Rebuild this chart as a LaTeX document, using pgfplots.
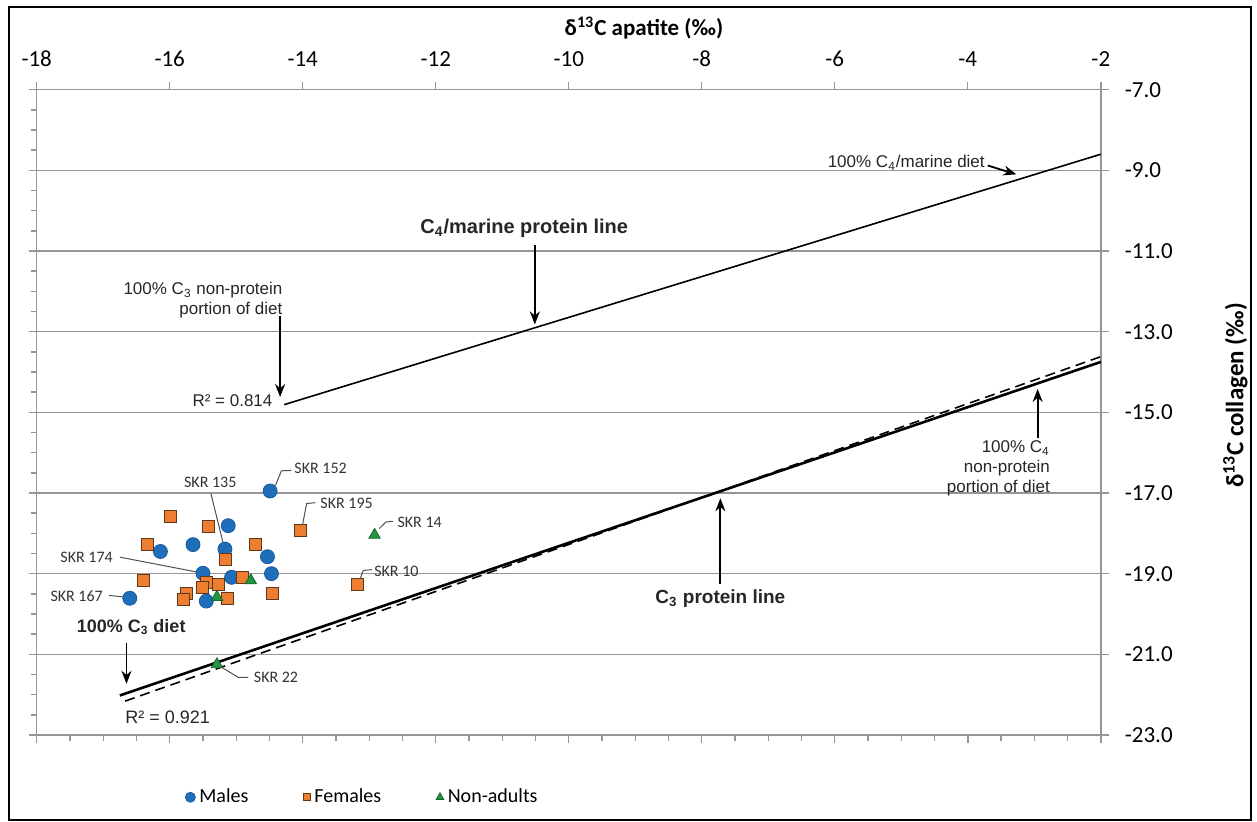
\documentclass[border=0pt]{standalone}
\usepackage{pgfplots}
\pgfplotsset{compat=1.18}
\usepackage{pgfplotstable}
\usepackage{fontspec}
\setmainfont{Carlito}
\newfontfamily\arialf{Liberation Sans}
\usetikzlibrary{arrows.meta}
\definecolor{mblue}{RGB}{30,110,185}
\definecolor{mblueD}{RGB}{25,90,160}
\definecolor{forange}{RGB}{237,125,49}
\definecolor{forangeD}{RGB}{95,55,25}
\definecolor{ngreen}{RGB}{35,150,70}
\definecolor{ngreenD}{RGB}{20,105,45}
\definecolor{gridg}{RGB}{150,150,150}
\definecolor{leadg}{RGB}{80,80,80}

\pgfplotstableread{
x y
-14.49 -16.95
-15.12 -17.81
-15.65 -18.28
-16.14 -18.45
-15.17 -18.39
-14.53 -18.58
-15.50 -18.99
-14.47 -19.00
-15.07 -19.09
-16.60 -19.61
-15.45 -19.68
}\males

\pgfplotstableread{
x y
-15.99 -17.59
-15.42 -17.84
-16.34 -18.28
-14.71 -18.28
-15.16 -18.66
-16.40 -19.17
-15.45 -19.21
-15.26 -19.27
-15.51 -19.35
-14.90 -19.09
-15.75 -19.49
-15.80 -19.65
-15.13 -19.61
-14.46 -19.49
-14.03 -17.94
-13.17 -19.27
}\females

\pgfplotstableread{
x y
-14.78 -19.17
-15.29 -19.58
-12.92 -18.04
-15.29 -21.25
}\nonadults

\pgfplotsset{mylegimg/.style={legend image code/.code={\draw[mark repeat=2,mark phase=2,##1] plot coordinates {(0cm,0cm) (0.15cm,0cm) (0.3cm,0cm)};}}}

\begin{document}
\begin{tikzpicture}
\useasboundingbox (0,0) rectangle (628.5pt,411pt);
\draw[line width=1pt] (4.5pt,0.75pt) rectangle (625.5pt,407.65pt);
\pgfplotsset{base/.style={at={(18.35pt,43.5pt)}, anchor=south west, scale only axis,
  width=532.05pt, height=322.65pt, xmin=-18, xmax=-2, ymin=-23, ymax=-7,
  xtick={-18,-16,...,-2}, ytick={-23,-21,...,-7}}}
% minor ticks on left and bottom
\begin{axis}[base, xtick pos=left, ytick pos=left, xticklabels={}, yticklabels={},
  minor x tick num=3, minor y tick num=3, axis line style={draw=none},
  tick style={gridg, line width=0.7pt}, tick align=outside,
  major tick length=4pt, minor tick length=3pt]
\end{axis}
\begin{axis}[base, clip=false, mylegimg,
  xtick pos=right, ytick pos=right, xticklabel pos=right, yticklabel pos=right,
  ymajorgrids, major grid style={gridg, line width=0.8pt},
  axis line style={gridg, line width=0.8pt},
  tick style={gridg, line width=0.7pt}, tick align=outside, major tick length=4pt,
  ticklabel style={font=\fontsize{11.5}{13}\selectfont},
  /pgf/number format/assume math mode=true,
  y tick label style={/pgf/number format/fixed, /pgf/number format/fixed zerofill,
    /pgf/number format/precision=1, anchor=west, xshift=4.5pt},
  x tick label style={yshift=4pt},
  legend style={draw=none, fill=none, at={(0.1337,-0.0965)}, anchor=west,
    legend columns=3, font=\fontsize{10}{12}\selectfont,
    /tikz/every even column/.append style={column sep=25.5pt}},
]
% lines
\addplot[black, line width=0.8pt, forget plot] coordinates {(-14.28,-14.81) (-2,-8.6)};
\addplot[black, line width=1.3pt, forget plot] coordinates {(-16.75,-22.02) (-2,-13.75)};
\addplot[black, line width=0.8pt, dash pattern=on 5pt off 3pt, forget plot] coordinates {(-16.67,-22.16) (-2,-13.62)};
% data
\addplot[only marks, mark=*, mark size=3.5pt, mark options={fill=mblue, draw=mblueD, line width=0.4pt},
  legend image post style={mark size=2.5pt}] table {\males};
\addlegendentry{Males}
\addplot[only marks, mark=square*, mark size=3pt, mark options={fill=forange, draw=forangeD, line width=0.5pt},
  legend image post style={mark size=1.75pt}] table {\females};
\addlegendentry{Females}
\addplot[only marks, mark=triangle*, mark size=3.3pt, mark options={fill=ngreen, draw=ngreenD, line width=0.4pt},
  legend image post style={mark size=2.2pt}] table {\nonadults};
\addlegendentry{Non-adults}

% axis titles
\node[font=\bfseries\fontsize{11.5}{13}\selectfont] at (rel axis cs:0.5707,1) [yshift=30.85pt] {δ\textsuperscript{13}C apatite (‰)};
\node[font=\bfseries\fontsize{12.5}{14}\selectfont, rotate=90] at (rel axis cs:1.1265,0.526) {δ\textsuperscript{13}C collagen (‰)};

% annotations
\begin{scope}[every node/.style={font=\arialf\fontsize{8.5}{10}\selectfont, inner sep=0pt, text=black!85}]
\node[anchor=east] at (axis cs:-3.74,-8.82) {100\% C\textsubscript{4}/marine diet};
\node[anchor=east, align=right] at (axis cs:-14.30,-12.22) {100\% C\textsubscript{3} non-protein\\portion of diet};
\node[anchor=east] at (axis cs:-14.45,-14.72) {R² = 0.814};
\node[anchor=east, align=right] at (axis cs:-2.76,-16.40) {100\% C\textsubscript{4}\\non-protein\\portion of diet};
\node[font=\arialf\bfseries\fontsize{9.5}{11}\selectfont] at (axis cs:-7.72,-19.61) {C\textsubscript{3} protein line};
\node[font=\arialf\bfseries\fontsize{10}{12}\selectfont] at (axis cs:-10.67,-10.43) {C\textsubscript{4}/marine protein line};
\node[font=\arialf\bfseries\fontsize{9}{11}\selectfont] at (axis cs:-16.58,-20.32) {100\% C\textsubscript{3} diet};
\node[font=\arialf\fontsize{9}{11}\selectfont] at (axis cs:-16.03,-22.56) {R² = 0.921};
\end{scope}
\begin{scope}[line width=0.9pt, -{Stealth[length=6.5pt,width=5pt]}]
\draw (axis cs:-3.70,-8.88) -- (axis cs:-3.27,-9.10);
\draw (axis cs:-10.51,-10.86) -- (axis cs:-10.51,-12.82);
\draw (axis cs:-14.34,-12.62) -- (axis cs:-14.34,-14.62);
\draw (axis cs:-7.72,-19.25) -- (axis cs:-7.72,-17.13);
\draw (axis cs:-2.95,-15.64) -- (axis cs:-2.95,-14.42);
\draw (axis cs:-16.65,-20.72) -- (axis cs:-16.65,-21.73);
\end{scope}

% sample labels
\begin{scope}[every node/.style={font=\fontsize{8}{10}\selectfont, inner sep=0pt, text=black!80}]
\node[anchor=west] at (axis cs:-14.13,-16.39) {SKR 152};
\node[anchor=west] at (axis cs:-13.74,-17.26) {SKR 195};
\node[anchor=west] at (axis cs:-12.58,-17.72) {SKR 14};
\node[anchor=west] at (axis cs:-12.93,-18.94) {SKR 10};
\node[anchor=west] at (axis cs:-14.74,-21.57) {SKR 22};
\node at (axis cs:-15.39,-16.73) {SKR 135};
\node[anchor=east] at (axis cs:-16.85,-18.60) {SKR 174};
\node[anchor=east] at (axis cs:-17.0,-19.56) {SKR 167};
\end{scope}
\begin{scope}[leadg, line width=0.5pt]
\draw (axis cs:-14.41,-16.81) -- (axis cs:-14.32,-16.45) -- (axis cs:-14.17,-16.44);
\draw (axis cs:-14.0,-17.76) -- (axis cs:-13.94,-17.26) -- (axis cs:-13.81,-17.24);
\draw (axis cs:-12.85,-17.88) -- (axis cs:-12.75,-17.72) -- (axis cs:-12.64,-17.70);
\draw (axis cs:-13.14,-19.15) -- (axis cs:-13.09,-18.92) -- (axis cs:-12.96,-18.90);
\draw (axis cs:-15.22,-21.32) -- (axis cs:-14.97,-21.57) -- (axis cs:-14.82,-21.57);
\draw (axis cs:-15.38,-17.02) -- (axis cs:-15.18,-18.35);
\draw (axis cs:-16.75,-18.59) -- (axis cs:-15.59,-18.96);
\draw (axis cs:-16.91,-19.54) -- (axis cs:-16.67,-19.58);
\end{scope}
\end{axis}
\end{tikzpicture}
\end{document}
